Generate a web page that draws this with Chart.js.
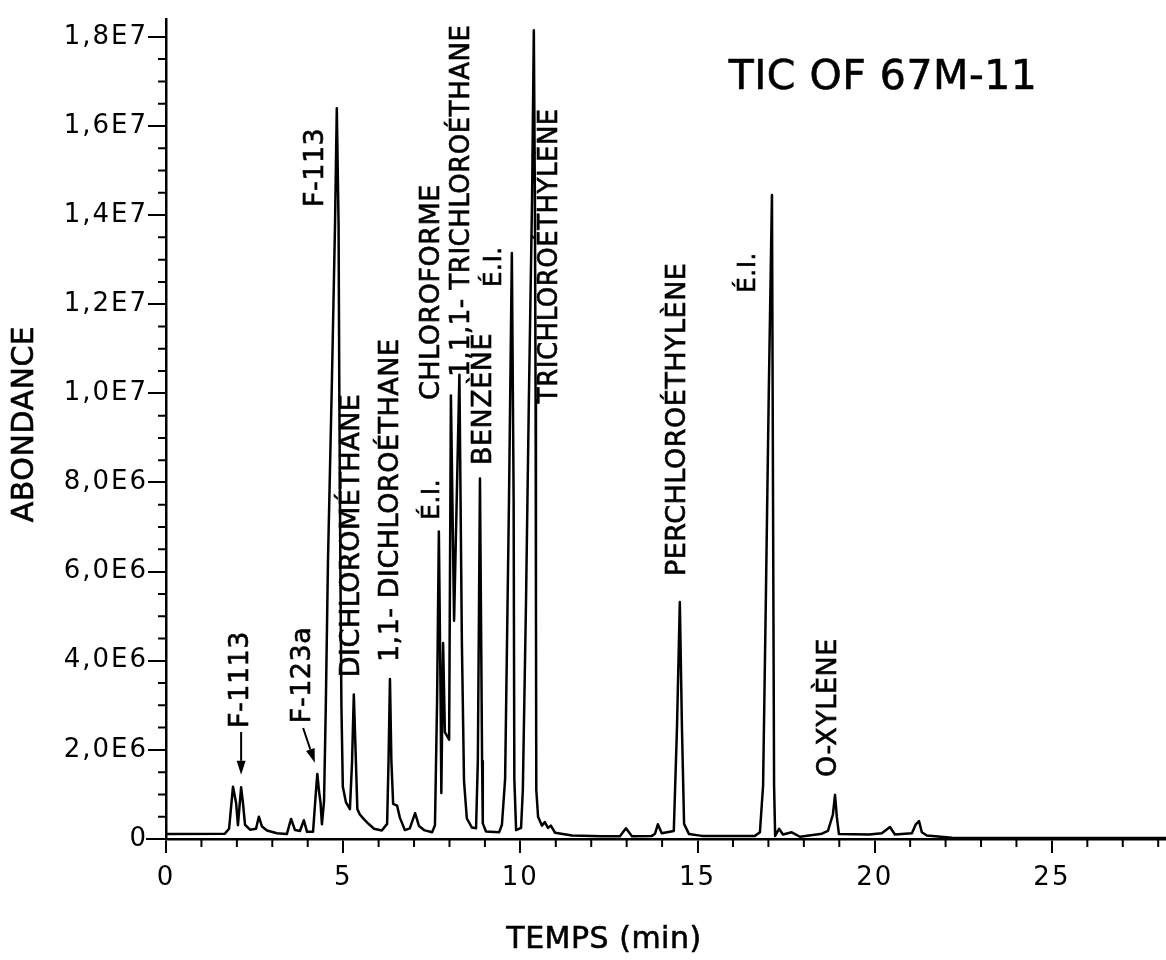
<!DOCTYPE html>
<html>
<head>
<meta charset="utf-8">
<title>TIC OF 67M-11</title>
<script src="https://cdn.jsdelivr.net/npm/chart.js@4.4.1/dist/chart.umd.min.js"></script>
<style>
    html, body { margin: 0; padding: 0; background: #ffffff; }
    #box { position: relative; width: 1166px; height: 960px; }
</style>
</head>
<body>
<div id="box"><canvas id="TicChart"></canvas></div>
<script>
// retention time (min)
const temps = [
    0.00, 1.66, 1.78, 1.89, 1.98, 2.03, 2.12, 2.17, 2.23, 2.37, 2.54, 2.62, 2.71, 2.85, 3.13, 3.41,
    3.53, 3.64, 3.78, 3.89, 3.98, 4.15, 4.23, 4.27, 4.32, 4.36, 4.40, 4.46, 4.51, 4.57, 4.68, 4.77,
    4.82, 4.87, 4.89, 4.92, 4.95, 4.99, 5.08, 5.19, 5.25, 5.30, 5.36, 5.40, 5.47, 5.59, 5.73, 5.87,
    6.09, 6.24, 6.28, 6.32, 6.36, 6.41, 6.52, 6.60, 6.74, 6.88, 7.03, 7.14, 7.28, 7.51, 7.59, 7.65,
    7.70, 7.75, 7.77, 7.82, 7.87, 7.99, 8.04, 8.13, 8.28, 8.35, 8.41, 8.49, 8.63, 8.75, 8.80, 8.86,
    8.92, 8.94, 9.03, 9.40, 9.48, 9.57, 9.68, 9.76, 9.81, 9.83, 9.88, 10.02, 10.07, 10.16, 10.24, 10.33,
    10.38, 10.41, 10.43, 10.44, 10.45, 10.50, 10.61, 10.69, 10.78, 10.86, 10.98, 11.46, 12.30, 12.81, 12.98, 13.15,
    13.71, 13.80, 13.88, 13.99, 14.33, 14.42, 14.50, 14.56, 14.62, 14.76, 15.12, 16.62, 16.76, 16.85, 16.93, 17.01,
    17.10, 17.12, 17.14, 17.16, 17.19, 17.30, 17.41, 17.66, 17.89, 18.51, 18.68, 18.82, 18.88, 18.93, 18.99, 19.84,
    20.20, 20.43, 20.57, 21.05, 21.16, 21.25, 21.33, 21.47, 22.18, 28.22
];

// abundance, in units of 1E6
const abondance = [
    0.11, 0.12, 0.23, 1.17, 0.80, 0.31, 1.16, 0.82, 0.32, 0.21, 0.23, 0.50, 0.28, 0.19, 0.13, 0.11,
    0.45, 0.20, 0.18, 0.42, 0.16, 0.16, 1.05, 1.46, 1.06, 0.82, 0.33, 0.85, 3.0, 6.2, 10.2, 13.8,
    16.4, 13.8, 10.2, 6.2, 3.0, 1.17, 0.82, 0.67, 1.72, 3.24, 1.72, 0.67, 0.55, 0.44, 0.33, 0.23,
    0.19, 0.34, 1.76, 3.59, 1.76, 0.79, 0.75, 0.48, 0.20, 0.24, 0.58, 0.29, 0.20, 0.15, 0.31, 3.1,
    6.9, 3.1, 1.03, 4.40, 2.40, 2.23, 9.95, 4.9, 10.42, 4.4, 1.3, 0.46, 0.26, 0.24, 1.75, 8.09,
    1.75, 0.35, 0.17, 0.15, 0.32, 1.35, 7.65, 13.15, 7.65, 1.35, 0.20, 0.25, 1.1, 5.35, 9.85, 14.35,
    18.15, 14.35, 9.85, 5.35, 1.1, 0.50, 0.30, 0.38, 0.25, 0.30, 0.14, 0.08, 0.06, 0.06, 0.24, 0.06,
    0.07, 0.12, 0.33, 0.13, 0.18, 2.5, 5.32, 2.5, 0.34, 0.11, 0.07, 0.07, 0.15, 1.2, 5.5, 10.0,
    14.45, 10.0, 5.5, 1.2, 0.07, 0.23, 0.10, 0.15, 0.05, 0.12, 0.18, 0.55, 0.99, 0.50, 0.11, 0.10,
    0.13, 0.27, 0.10, 0.13, 0.33, 0.40, 0.15, 0.08, 0.03, 0.02
];

const xTickValues = [0, 5, 10, 15, 20, 25];
const xTickLabels = ['0', '5', '10', '15', '20', '25'];
const yTickValues = [0, 2, 4, 6, 8, 10, 12, 14, 16, 18];
const yTickLabels = ['0', '2,0E6', '4,0E6', '6,0E6', '8,0E6', '1,0E7', '1,2E7', '1,4E7', '1,6E7', '1,8E7'];

const peakNames = [
    'F-1113', 'F-123a', 'F-113', 'DICHLOROMÉTHANE', '1,1- DICHLOROÉTHANE', 'É.I.', 'CHLOROFORME',
    '1,1,1- TRICHLOROÉTHANE', 'BENZÈNE', 'É.I.', 'TRICHLOROÉTHYLÈNE', 'PERCHLOROÉTHYLÈNE', 'É.I.', 'O-XYLÈNE'
];

// where each vertical label starts (time, abundance), same order as peakNames
const labelAnchors = [
    [2.12, 2.49], [3.87, 2.60], [4.23, 14.18], [5.25, 3.63], [6.35, 3.97], [7.51, 7.16], [7.51, 9.85],
    [8.35, 10.37], [8.97, 8.39], [9.26, 12.38], [10.84, 9.78], [14.45, 5.90], [16.45, 12.25], [18.71, 1.39]
];
const labelSizes = [27, 27, 27, 27, 27, 25, 27, 26, 27, 25, 26, 27, 25, 27];

// arrows under F-1113 and F-123a: [t0, v0, t1, v1]
const arrows = [
    [2.12, 2.40, 2.12, 1.44],
    [3.87, 2.49, 4.20, 1.71]
];

const FONT = '"DejaVu Sans", sans-serif';

function drawArrow(ctx, x0, y0, x1, y1) {
    const a = Math.atan2(y1 - y0, x1 - x0);
    const len = 14, half = 4.5;
    ctx.beginPath();
    ctx.moveTo(x0, y0);
    ctx.lineTo(x1 - len * Math.cos(a), y1 - len * Math.sin(a));
    ctx.stroke();
    ctx.beginPath();
    ctx.moveTo(x1, y1);
    ctx.lineTo(x1 - len * Math.cos(a) + half * Math.sin(a), y1 - len * Math.sin(a) - half * Math.cos(a));
    ctx.lineTo(x1 - len * Math.cos(a) - half * Math.sin(a), y1 - len * Math.sin(a) + half * Math.cos(a));
    ctx.closePath();
    ctx.fill();
}

// scanned lettering is a bit heavier than a plain fill
function inkText(ctx, text, x, y) {
    ctx.fillText(text, x, y);
    ctx.strokeText(text, x, y);
}

const chromatoText = {
    id: 'chromatoText',
    beforeDraw(chart) {
        chart.ctx.letterSpacing = '2px';
    },
    afterDraw(chart) {
        const ctx = chart.ctx;
        const xs = chart.scales.x;
        const ys = chart.scales.y;
        const area = chart.chartArea;
        ctx.save();
        ctx.strokeStyle = '#000';
        ctx.fillStyle = '#000';
        ctx.lineWidth = 2;

        // minor ticks every minute and every 5E5
        ctx.beginPath();
        for (let t = 1; t < xs.max; t++) {
            if (t % 5 === 0) continue;
            const px = xs.getPixelForValue(t);
            ctx.moveTo(px, area.bottom);
            ctx.lineTo(px, area.bottom + 8);
        }
        for (let v = 0.5; v < 18.2; v += 0.5) {
            if (v % 2 === 0) continue;
            const py = ys.getPixelForValue(v);
            ctx.moveTo(area.left - 8, py);
            ctx.lineTo(area.left, py);
        }
        ctx.moveTo(area.left - 20, area.bottom);
        ctx.lineTo(area.left, area.bottom);
        ctx.stroke();

        arrows.forEach(a => {
            drawArrow(ctx, xs.getPixelForValue(a[0]), ys.getPixelForValue(a[1]),
                xs.getPixelForValue(a[2]), ys.getPixelForValue(a[3]));
        });

        ctx.lineWidth = 0.6;
        ctx.letterSpacing = '0.5px';

        // peak names, written bottom to top
        for (let i = 0; i < peakNames.length; i++) {
            const px = xs.getPixelForValue(labelAnchors[i][0]);
            const py = ys.getPixelForValue(labelAnchors[i][1]);
            ctx.save();
            ctx.translate(px, py);
            ctx.rotate(-Math.PI / 2);
            ctx.font = labelSizes[i] + 'px ' + FONT;
            ctx.textAlign = 'left';
            ctx.textBaseline = 'middle';
            inkText(ctx, peakNames[i], 0, 0);
            ctx.restore();
        }

        // titles
        ctx.textAlign = 'center';
        ctx.textBaseline = 'middle';
        ctx.font = '41px ' + FONT;
        inkText(ctx, 'TIC OF 67M-11', 883, 78);
        ctx.font = '30px ' + FONT;
        inkText(ctx, 'TEMPS (min)', 604, 940);
        ctx.save();
        ctx.translate(25, 424);
        ctx.rotate(-Math.PI / 2);
        inkText(ctx, 'ABONDANCE', 0, 0);
        ctx.restore();

        ctx.restore();
    }
};

function TicChart() {
    var points = [];
    for (var i = 0; i < temps.length; i++) {
        points[i] = { x: temps[i], y: abondance[i] };
    }
    new Chart(document.getElementById('TicChart'), {
        type: 'line',
        data: {
            datasets: [
                {
                    data: points,
                    borderColor: '#000',
                    borderWidth: 2.5,
                    borderJoinStyle: 'round',
                    pointRadius: 0,
                    tension: 0,
                    fill: false
                }
            ]
        },
        options: {
            responsive: true,
            maintainAspectRatio: false,
            animation: false,
            events: [],
            layout: { padding: { left: 0, right: 0, top: 19, bottom: 0 } },
            plugins: {
                legend: { display: false },
                tooltip: { enabled: false }
            },
            scales: {
                x: {
                    type: 'linear',
                    min: 0,
                    max: 28.22,
                    afterFit: (scale) => { scale.height = 121; },
                    afterBuildTicks: (scale) => { scale.ticks = xTickValues.map(v => ({ value: v })); },
                    grid: { drawOnChartArea: false, color: '#000', lineWidth: 2, tickLength: 14 },
                    border: { display: true, color: '#000', width: 2.5 },
                    ticks: {
                        color: '#000',
                        font: { family: FONT, size: 26 },
                        padding: 10,
                        maxRotation: 0,
                        callback: (value) => xTickLabels[xTickValues.indexOf(value)]
                    }
                },
                y: {
                    type: 'linear',
                    min: 0,
                    max: 18.4,
                    afterFit: (scale) => { scale.width = 166; },
                    afterBuildTicks: (scale) => { scale.ticks = yTickValues.map(v => ({ value: v })); },
                    grid: { drawOnChartArea: false, color: '#000', lineWidth: 2, tickLength: 18 },
                    border: { display: true, color: '#000', width: 2.5 },
                    ticks: {
                        color: '#000',
                        font: { family: FONT, size: 26 },
                        padding: 0,
                        callback: (value) => yTickLabels[yTickValues.indexOf(value)]
                    }
                }
            }
        },
        plugins: [chromatoText]
    });
}

TicChart();
</script>
</body>
</html>
